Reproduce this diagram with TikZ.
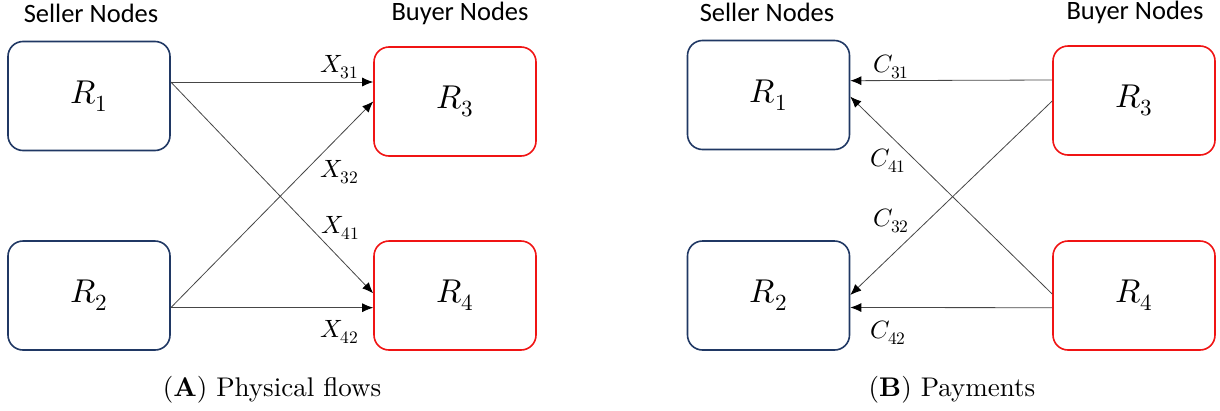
\documentclass[tikz,border=0pt]{standalone}
\usepackage{fontspec}
\usepackage{unicode-math}
\setmainfont{Latin Modern Roman}
\setmathfont{Latin Modern Math}
\newfontfamily\hdrfont{Carlito}
\newfontfamily\captfont{lmroman10-regular}[Extension=.otf,BoldFont=lmroman10-bold]
\usetikzlibrary{arrows.meta}
\definecolor{sellerblue}{RGB}{32,56,100}
\definecolor{buyerred}{RGB}{240,20,20}
\definecolor{flowgray}{RGB}{70,70,70}
\begin{document}
\begin{tikzpicture}[x=1pt,y=-1pt,
  seller/.style={draw=sellerblue,line width=1.6pt,rounded corners=15pt,
    minimum width=162pt,minimum height=109pt,inner sep=0pt,
    font=\fontsize{33}{35}\selectfont},
  buyer/.style={seller,draw=buyerred},
  hdr/.style={font=\hdrfont\fontsize{26.5}{28}\selectfont,inner sep=0pt},
  flowlbl/.style={font=\fontsize{25}{27}\selectfont,inner sep=0pt,anchor=base west},
  capt/.style={font=\captfont\fontsize{27}{29}\selectfont,inner sep=0pt,anchor=base},
  flow/.style={draw=flowgray,line width=0.8pt,
    -{Latex[length=11pt,width=9pt,color=black]}}]
\useasboundingbox (0,0) rectangle (1220,410);

% ---- (A) physical flows ----
\node[hdr] (hsA) at (91,13) {Seller Nodes};
\node[hdr] (hbA) at (460,13) {Buyer Nodes};
\node[seller] (a1) at (89,96) {$R_1$};
\node[buyer]  (a3) at (455,101.5) {$R_3$};
\node[seller] (a2) at (89,295.5) {$R_2$};
\node[buyer]  (a4) at (455,295.5) {$R_4$};
\draw[flow] ([yshift=14pt]a1.east) -- ([yshift=19.5pt]a3.west);
\draw[flow] ([yshift=14pt]a1.east) -- ([yshift=2.2pt]a4.west);
\draw[flow] ([yshift=-12.2pt]a2.east) -- ([yshift=0pt]a3.west);
\draw[flow] ([yshift=-12.2pt]a2.east) -- ([yshift=-12.2pt]a4.west);
\node[flowlbl] (x31) at (320,72) {$X_{31}$};
\node[flowlbl] (x32) at (320,177) {$X_{32}$};
\node[flowlbl] (x41) at (321,233) {$X_{41}$};
\node[flowlbl] (x42) at (320,337) {$X_{42}$};
\node[capt] (cA) at (272,396) {(\textbf{A}) Physical flows};

% ---- (B) payments ----
\node[hdr] (hsB) at (767,12) {Seller Nodes};
\node[hdr] (hbB) at (1135,12) {Buyer Nodes};
\node[seller] (b1) at (768.5,95) {$R_1$};
\node[buyer]  (b3) at (1134,100.5) {$R_3$};
\node[seller] (b2) at (768.5,295.5) {$R_2$};
\node[buyer]  (b4) at (1134,295.5) {$R_4$};
\draw[flow] ([yshift=20.5pt]b3.west) -- ([yshift=14.3pt]b1.east);
\draw[flow] ([yshift=-0.5pt]b3.west) -- ([yshift=0.5pt]b2.east);
\draw[flow] ([yshift=1.5pt]b4.west) -- ([yshift=-1.7pt]b1.east);
\draw[flow] ([yshift=-12.2pt]b4.west) -- ([yshift=-12pt]b2.east);
\node[flowlbl] (c31) at (873,72.5) {$C_{31}$};
\node[flowlbl] (c41) at (870,166.5) {$C_{41}$};
\node[flowlbl] (c32) at (873,226.5) {$C_{32}$};
\node[flowlbl] (c42) at (870,338) {$C_{42}$};
\node[capt] (cB) at (952,396) {(\textbf{B}) Payments};
\end{tikzpicture}
\end{document}
